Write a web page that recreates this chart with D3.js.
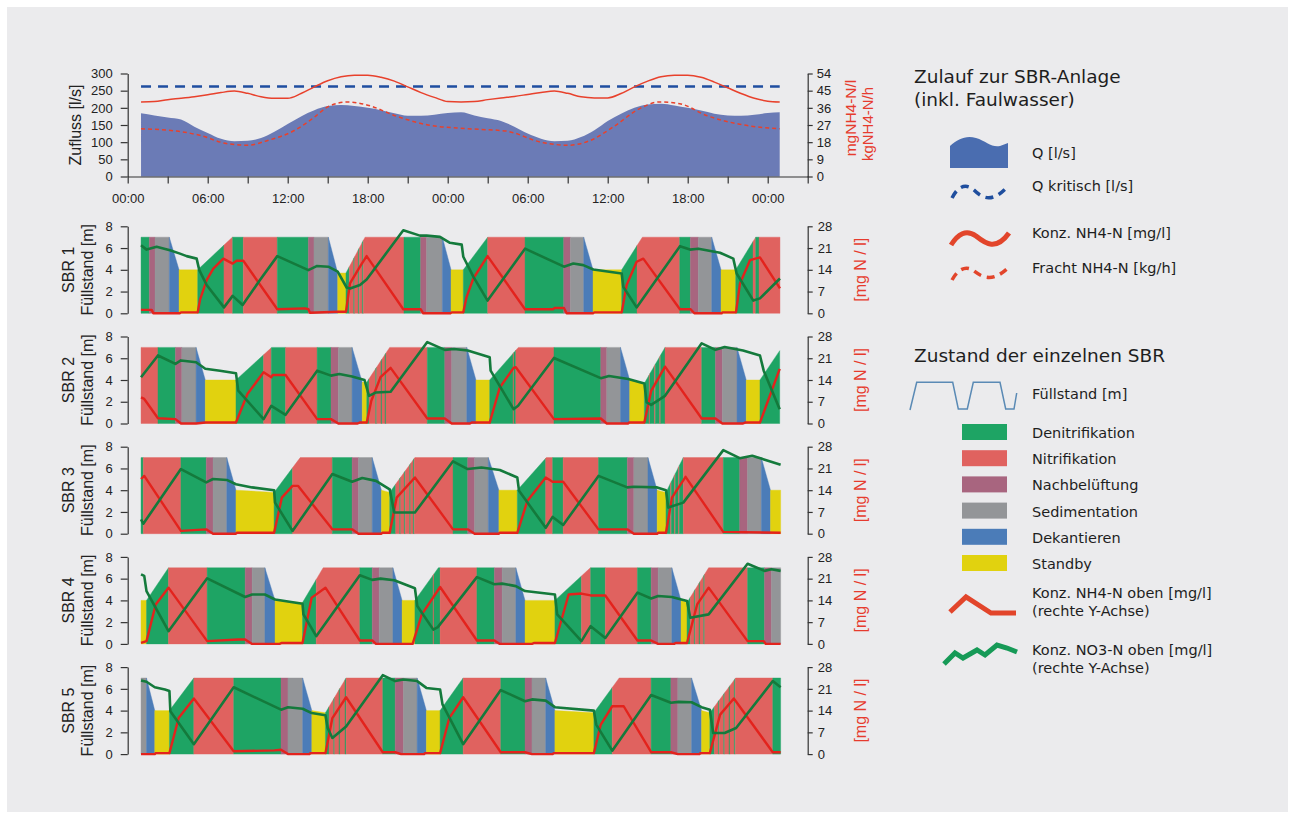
<!DOCTYPE html>
<html><head><meta charset="utf-8">
<script src="https://cdn.jsdelivr.net/npm/d3@7"></script>
<style>body{margin:0;background:#fff}svg{display:block}</style>
</head><body><svg id="c" width="1295" height="819"></svg>
<script>
// ---------------- DATA ----------------
// Zulauf (time in hours from 00:00 of day 1)
const qFlow = [[1,184],[2,178],[3,172],[4,166],[5,145],[6,127],[7,110],[8,103],[9,104],[10,112],[11,130],[12,153],[13,175],[14,193],[15,205],[16,208],[17,205],[18,200],[19,193],[20,184],[21,177],[22,177],[23,180],[24,185],[25,187],[26,178],[27,170],[28,162],[29,145],[30,125],[31,110],[32,103],[33,104],[34,115],[35,135],[36,162],[37,183],[38,200],[39,210],[40,212],[41,207],[42,200],[43,192],[44,183],[45,178],[46,177],[47,180],[48,185],[48.9,187]];
const qKritisch = [[1,262],[48.9,262]];
const konzNH4 = [[1,39.1],[2,39.3],[3,40.3],[4,41.0],[5,41.8],[6,42.8],[7,44.0],[8,44.8],[9,43.6],[10,41.8],[11,41.0],[12,41.0],[13,43.5],[14,47.0],[15,50.2],[16,52.3],[17,53.1],[18,53.1],[19,52.0],[20,50.0],[21,47.0],[22,44.0],[23,41.5],[24,39.3],[25,39.1],[26,39.3],[27,40.3],[28,41.2],[29,42.0],[30,43.0],[31,44.0],[32,44.8],[33,43.6],[34,41.8],[35,41.2],[36,41.2],[37,43.5],[38,47.0],[39,50.0],[40,52.3],[41,53.1],[42,53.1],[43,52.0],[44,49.5],[45,46.5],[46,43.5],[47,41.0],[48,39.5],[48.9,39.1]];
const frachtNH4 = [[1,25.0],[3.7,23.8],[5.4,21.6],[7.4,17.3],[9,16.4],[10.5,18.9],[12.5,24.1],[14,31.1],[15,36.5],[16.5,39.1],[18,37.4],[20.2,31.5],[22.7,26.8],[24.7,25.4],[26.5,24.7],[28.4,23.8],[31,18.0],[33,16.4],[34.7,18.9],[36.4,25.9],[38.4,35.6],[39.9,39.1],[41.4,38.2],[43.4,32.0],[45.9,27.4],[48.9,25.0]];
const timeTicks = [0,3,6,9,12,15,18,21,24,27,30,33,36,39,42,45,48,51];
const timeLabels = ["00:00","","06:00","","12:00","","18:00","","00:00","","06:00","","12:00","","18:00","","00:00",""];
const qTicks = [0,50,100,150,200,250,300];
const nTicks = [0,9,18,27,36,45,54];
const levelTicks = [0,2,4,6,8];
const mgTicks = [0,7,14,21,28];

// SBR 1
const sbr1Level = [[1,7],[3.12,7],[3.85,4],[5.25,4],[7.85,7],[15.05,7],[15.75,3.7],[16.37,3.7],[17.8,7],[23.6,7],[24.25,4],[25.17,4],[27.0,7],[34.2,7],[34.9,4],[37.05,4],[38.6,7],[43.8,7],[44.5,4],[45.6,4],[47.1,7],[48.92,7]];
const sbr1Phases = [[1.0,1.62,"D"],[1.62,2.05,"B"],[2.05,3.12,"S"],[3.12,3.85,"K"],[3.85,5.25,"Y"],[5.25,7.22,"D"],[7.22,7.87,"N"],[7.87,8.67,"D"],[8.67,11.22,"N"],[11.22,13.55,"D"],[13.55,13.97,"B"],[13.97,15.05,"S"],[15.05,15.75,"K"],[15.75,16.37,"Y"],[16.37,16.62,"D"],[16.62,16.95,"N"],[16.95,17.02,"D"],[17.02,17.3,"N"],[17.3,17.37,"D"],[17.37,17.6,"N"],[17.6,17.67,"D"],[17.67,20.72,"N"],[20.72,21.97,"D"],[21.97,22.42,"B"],[22.42,23.6,"S"],[23.6,24.25,"K"],[24.25,25.17,"Y"],[25.17,27.0,"D"],[27.0,29.8,"N"],[29.8,32.7,"D"],[32.7,33.2,"B"],[33.2,34.2,"S"],[34.2,34.9,"K"],[34.9,37.05,"Y"],[37.05,38.2,"D"],[38.2,41.4,"N"],[41.4,42.2,"D"],[42.2,42.8,"B"],[42.8,43.8,"S"],[43.8,44.5,"K"],[44.5,45.6,"Y"],[45.6,46.9,"D"],[46.9,47.1,"N"],[47.1,47.35,"D"],[47.35,48.92,"N"]];
const sbr1NH4 = [[1.0,1.1],[1.8,1.1],[1.92,0],[3.9,0],[4.0,0.3],[5.25,0.3],[5.42,4.3],[5.92,10.7],[6.42,14.4],[7.17,17.6],[7.87,16.0],[8.17,16.9],[8.67,16.9],[11.22,1.3],[13.3,1.6],[13.55,1.3],[13.67,0.2],[15.8,0.5],[16.37,0.5],[16.67,9.6],[17.42,15],[17.92,18.4],[20.67,1.3],[21.97,1.3],[22.17,0],[24.2,0],[24.3,0.3],[25.17,0.3],[25.42,5.3],[25.92,11.2],[26.99,18.4],[29.8,1.3],[31.92,1.3],[32.0,1.7],[32.72,1.7],[32.92,0],[34.9,0],[35.0,0.3],[37.05,0.3],[37.42,9.1],[38.17,16.6],[38.67,17.6],[41.42,1.3],[42.22,1.3],[42.5,0],[44.55,0],[44.6,0.3],[45.62,0.3],[45.92,9.6],[46.67,17.1],[47.42,18],[48.92,8]];
const sbr1NO3 = [[1.0,21.9],[1.42,20.5],[2.17,21.4],[3.17,20.3],[3.92,19.2],[4.42,18.4],[5.17,17.6],[5.37,13.9],[5.92,9.1],[7.22,1.9],[7.87,5.6],[8.62,2.7],[9.92,10.7],[11.22,18.4],[13.55,13.9],[14.17,15.2],[15.05,15.0],[15.75,13.4],[16.42,8.3],[16.67,8.0],[17.42,9.1],[17.92,10.9],[20.67,26.7],[21.92,25],[22.42,25],[23.42,24.6],[24.17,22.7],[25.05,22.1],[25.17,18.2],[25.92,11.8],[26.99,4.1],[29.8,20.8],[32.72,15.0],[33.42,16.0],[34.17,15.5],[34.92,14.1],[37.05,12.8],[37.17,8.5],[38.17,1.9],[41.42,21.6],[42.17,20.5],[42.8,20.8],[44.42,19.5],[45.42,17.6],[45.67,12.8],[46.92,4.1],[47.42,4.8],[48.92,11.2]];

// SBR 2
const sbr2Level = [[1,7],[5.13,7],[5.82,4],[8.12,4],[10.8,7],[16.83,7],[17.59,3.8],[17.93,3.8],[19.65,7],[25.43,7],[26.12,4],[27.15,4],[29.3,7],[36.96,7],[37.65,4],[38.75,3.7],[40.3,7],[45.7,7],[46.39,4],[47.42,4],[48.9,6.7]];
const sbr2Phases = [[1.0,2.27,"N"],[2.27,3.58,"D"],[3.58,4.06,"B"],[4.06,5.13,"S"],[5.13,5.82,"K"],[5.82,8.12,"Y"],[8.12,10.19,"D"],[10.19,10.77,"N"],[10.77,11.84,"D"],[11.84,14.21,"N"],[14.21,15.25,"D"],[15.25,15.8,"B"],[15.8,16.83,"S"],[16.83,17.59,"K"],[17.59,17.93,"Y"],[17.93,18.1,"D"],[18.1,18.6,"N"],[18.6,18.67,"D"],[18.67,19.0,"N"],[19.0,19.07,"D"],[19.07,19.3,"N"],[19.3,19.37,"D"],[19.37,22.47,"N"],[22.47,23.78,"D"],[23.78,24.3,"B"],[24.3,25.43,"S"],[25.43,26.12,"K"],[26.12,27.15,"Y"],[27.15,28.9,"D"],[28.9,28.97,"N"],[28.97,29.11,"D"],[29.11,31.97,"N"],[31.97,35.48,"D"],[35.48,35.93,"B"],[35.93,36.96,"S"],[36.96,37.65,"K"],[37.65,38.75,"Y"],[38.75,39.1,"D"],[39.1,39.17,"N"],[39.17,39.5,"D"],[39.5,39.57,"N"],[39.57,39.9,"D"],[39.9,39.97,"N"],[39.97,40.3,"D"],[40.3,43.05,"N"],[43.05,44.08,"D"],[44.08,44.6,"B"],[44.6,45.7,"S"],[45.7,46.39,"K"],[46.39,47.42,"Y"],[47.42,48.9,"D"]];
const sbr2NH4 = [[1.0,8.4],[1.24,7.9],[2.27,1.7],[3.58,1.4],[4.0,0],[5.13,0],[5.82,0.3],[8.12,0.3],[8.98,9.5],[10.19,16.5],[10.77,14.9],[10.88,15.6],[11.84,15.6],[14.21,1.4],[15.25,1.4],[15.8,0],[17.24,0],[17.4,0.3],[17.93,0.3],[18.27,7.3],[18.96,14.9],[19.72,17.9],[22.47,1.6],[23.78,1.6],[24.3,0],[25.67,0],[25.8,0.3],[27.15,0.3],[27.91,11.6],[28.94,17.9],[29.11,18.1],[31.97,1.4],[35.48,1.6],[35.93,0],[37.54,0],[37.6,0.3],[38.75,0.3],[39.26,10.5],[40.3,18.3],[43.05,1.6],[44.08,1.6],[44.6,0],[46.15,0],[46.3,0.3],[47.42,0.3],[48.21,9.5],[48.9,17.6]];
const sbr2NO3 = [[1.0,14.9],[2.27,21.9],[3.58,19.2],[3.99,20.3],[5.13,19.7],[5.82,17.6],[6.92,17.0],[8.12,16.2],[8.29,10.6],[10.19,1.4],[10.77,5.7],[11.84,2.8],[14.21,17.0],[15.25,15.4],[15.87,15.9],[16.83,15.1],[17.76,14.0],[18.1,8.9],[18.62,10.0],[19.72,10.2],[22.47,26.2],[23.78,23.7],[24.47,24.0],[25.5,23.5],[27.15,21.3],[27.22,17.0],[28.94,4.6],[29.28,5.7],[31.97,21.1],[35.48,14.6],[36.1,15.3],[37.54,14.3],[38.75,12.9],[38.92,6.8],[39.26,6.0],[40.3,8.9],[43.05,25.8],[44.08,23.7],[44.77,24.6],[46.15,23.5],[47.42,21.9],[47.7,17.0],[48.9,4.6]];

// SBR 3
const sbr3Level = [[1,7],[7.43,7],[8.12,4],[10.98,3.8],[12.94,7],[18.34,7],[19.03,4],[19.65,3.8],[21.54,7],[27.05,7],[27.84,4],[29.22,4],[31.4,7],[39.02,7],[39.71,4],[40.37,3.8],[41.67,7],[47.52,7],[48.21,4],[48.97,4]];
const sbr3Phases = [[1.0,1.17,"D"],[1.17,3.99,"N"],[3.99,5.89,"D"],[5.89,6.4,"B"],[6.4,7.43,"S"],[7.43,8.12,"K"],[8.12,10.98,"Y"],[10.98,12.36,"D"],[12.36,15.35,"N"],[15.35,16.83,"D"],[16.83,17.31,"B"],[17.31,18.34,"S"],[18.34,19.03,"K"],[19.03,19.65,"Y"],[19.65,20.1,"D"],[20.1,20.4,"N"],[20.4,20.47,"D"],[20.47,20.75,"N"],[20.75,20.82,"D"],[20.82,21.15,"N"],[21.15,21.22,"D"],[21.22,21.42,"N"],[21.42,21.49,"D"],[21.49,24.4,"N"],[24.4,25.5,"D"],[25.5,26.02,"B"],[26.02,27.05,"S"],[27.05,27.84,"K"],[27.84,29.22,"Y"],[29.22,31.35,"D"],[31.35,31.87,"N"],[31.87,32.66,"D"],[32.66,35.31,"N"],[35.31,37.47,"D"],[37.47,37.96,"B"],[37.96,39.02,"S"],[39.02,39.71,"K"],[39.71,40.37,"Y"],[40.37,40.7,"D"],[40.7,40.77,"N"],[40.77,41.0,"D"],[41.0,41.07,"N"],[41.07,41.3,"D"],[41.3,41.37,"N"],[41.37,41.67,"D"],[41.67,44.67,"N"],[44.67,45.9,"D"],[45.9,46.49,"B"],[46.49,47.52,"S"],[47.52,48.21,"K"],[48.21,48.97,"Y"]];
const sbr3NH4 = [[1.0,17.6],[1.24,18.6],[3.99,0.9],[5.89,1.4],[6.4,0],[8.12,0],[8.2,0.3],[10.98,0.3],[11.56,11.6],[12.36,15.4],[12.77,15.4],[15.35,1.4],[16.83,1.4],[17.31,0],[19.03,0],[19.1,0.3],[19.65,0.3],[20.17,11.6],[21.54,18.1],[24.4,1.4],[25.5,1.4],[26.02,0],[27.84,0],[27.9,0.3],[29.22,0.3],[29.97,10.5],[31.35,18.1],[31.87,16.7],[32.66,16.7],[35.31,1.4],[37.47,1.4],[37.96,0],[39.71,0],[39.8,0.3],[40.37,0.3],[40.82,11.6],[41.84,18.3],[44.67,0.6],[48.97,0.3]];
const sbr3NO3 = [[1.0,4.6],[1.17,3.2],[3.99,20.8],[5.89,16.5],[6.4,17.6],[7.43,17.3],[8.12,15.9],[9.33,14.9],[10.98,14.0],[11.05,10.0],[12.36,0.9],[15.35,19.2],[16.83,16.7],[17.59,17.9],[18.62,17.0],[19.65,14.3],[19.99,6.8],[20.68,6.8],[21.54,6.8],[24.4,23.3],[25.5,20.8],[26.53,21.3],[27.91,20.5],[29.22,18.1],[29.35,13.8],[31.35,1.9],[31.87,5.4],[32.66,2.8],[35.31,18.6],[37.47,14.9],[37.96,15.1],[39.71,14.9],[40.37,14.0],[40.54,8.4],[41.67,10.0],[44.67,26.9],[45.9,24.3],[46.84,25.1],[48.97,22.2]];

// SBR 4
const sbr4Level = [[1,4],[1.41,4],[3.06,7],[10.29,7],[11.05,4],[13.11,3.8],[14.66,7],[19.89,7],[20.58,4],[21.54,4],[23.3,7],[29.11,7],[29.8,4],[32.04,4],[34.7,7],[40.81,7],[41.5,4],[41.95,3.8],[43.57,7],[48.97,7]];
const sbr4Phases = [[1.0,1.41,"Y"],[1.41,3.06,"D"],[3.06,5.96,"N"],[5.96,8.81,"D"],[8.81,9.33,"B"],[9.33,10.29,"S"],[10.29,11.05,"K"],[11.05,13.11,"Y"],[13.11,14.14,"D"],[14.14,17.41,"N"],[17.41,18.34,"D"],[18.34,18.86,"B"],[18.86,19.89,"S"],[19.89,20.58,"K"],[20.58,21.54,"Y"],[21.54,22.9,"D"],[22.9,22.97,"N"],[22.97,23.43,"D"],[23.43,26.19,"N"],[26.19,27.5,"D"],[27.5,28.08,"B"],[28.08,29.11,"S"],[29.11,29.8,"K"],[29.8,32.04,"Y"],[32.04,34.03,"D"],[34.03,34.72,"N"],[34.72,35.82,"D"],[35.82,38.23,"N"],[38.23,39.26,"D"],[39.26,39.78,"B"],[39.78,40.81,"S"],[40.81,41.5,"K"],[41.5,41.95,"Y"],[41.95,42.2,"D"],[42.2,42.5,"N"],[42.5,42.57,"D"],[42.57,42.85,"N"],[42.85,42.92,"D"],[42.92,43.2,"N"],[43.2,43.27,"D"],[43.27,46.49,"N"],[46.49,47.76,"D"],[47.76,48.28,"B"],[48.28,48.97,"S"]];
const sbr4NH4 = [[1.0,0.3],[1.41,0.9],[2.1,12.7],[3.06,18.1],[5.96,0.9],[8.3,1.4],[8.81,1.4],[9.33,0],[11.39,0],[11.56,0.3],[13.11,0.3],[13.8,14.9],[14.83,18.1],[17.41,1.1],[18.34,1.1],[18.62,0],[21.37,0],[22.06,9.5],[23.43,18.3],[26.19,1.1],[27.5,1.1],[27.91,0],[30.32,0],[30.5,0.3],[32.04,0.3],[33.07,15.9],[34.03,16.2],[34.72,15.6],[35.82,15.6],[38.23,1.1],[39.26,1.1],[39.78,0],[40.98,0],[41.1,0.3],[41.95,0.3],[42.71,12.7],[43.57,18.1],[46.49,0.9],[47.69,0.9],[47.86,0],[48.97,0]];
const sbr4NO3 = [[1.0,22.4],[1.24,21.9],[1.41,17.0],[3.06,4.1],[5.96,21.1],[8.81,15.1],[9.33,15.9],[10.29,15.9],[11.05,14.3],[13.11,12.9],[13.18,9.5],[14.14,2.5],[17.41,22.1],[18.34,20.6],[18.96,21.0],[19.99,20.5],[21.54,17.9],[21.72,12.2],[22.92,4.6],[23.26,5.4],[26.19,21.5],[27.5,19.2],[28.08,19.4],[29.11,18.6],[29.8,17.0],[32.04,15.9],[32.21,9.5],[34.03,0.9],[34.72,5.7],[35.82,1.9],[38.23,16.5],[39.26,14.6],[39.78,15.4],[40.81,15.1],[41.95,13.8],[42.19,8.4],[43.57,9.5],[46.49,25.8],[47.76,23.5],[48.28,24.0],[48.97,23.5]];

// SBR 5
const sbr5Level = [[1,7],[1.41,7],[2.03,4],[3.13,4],[4.96,7],[13.12,7],[13.81,4],[14.83,3.8],[16.38,7],[21.71,7],[22.4,4],[23.43,4],[25.16,7],[31.35,7],[32.04,4],[34.96,3.8],[36.86,7],[42.29,7],[43.04,4],[43.66,3.8],[45.6,7],[48.97,7]];
const sbr5Phases = [[1.0,1.41,"S"],[1.41,2.03,"K"],[2.03,3.13,"Y"],[3.13,4.96,"D"],[4.96,7.95,"N"],[7.95,11.5,"D"],[11.5,12.02,"B"],[12.02,13.12,"S"],[13.12,13.81,"K"],[13.81,14.83,"Y"],[14.83,15.1,"D"],[15.1,15.45,"N"],[15.45,15.52,"D"],[15.52,15.85,"N"],[15.85,15.92,"D"],[15.92,16.3,"N"],[16.3,16.38,"D"],[16.38,19.13,"N"],[19.13,20.06,"D"],[20.06,20.68,"B"],[20.68,21.71,"S"],[21.71,22.4,"K"],[22.4,23.43,"Y"],[23.43,25.16,"D"],[25.16,27.98,"N"],[27.98,29.8,"D"],[29.8,30.32,"B"],[30.32,31.35,"S"],[31.35,32.04,"K"],[32.04,34.96,"Y"],[34.96,36.34,"D"],[36.34,39.26,"N"],[39.26,40.74,"D"],[40.74,41.26,"B"],[41.26,42.29,"S"],[42.29,43.04,"K"],[43.04,43.66,"Y"],[43.66,44.0,"D"],[44.0,44.3,"N"],[44.3,44.37,"D"],[44.37,44.7,"N"],[44.7,44.77,"D"],[44.77,45.1,"N"],[45.1,45.17,"D"],[45.17,45.5,"N"],[45.5,45.57,"D"],[45.57,48.38,"N"],[48.38,48.97,"D"]];
const sbr5NH4 = [[1.0,0],[2.03,0],[2.1,0.3],[3.13,0.3],[3.82,11.6],[4.96,17.9],[7.95,0.9],[11.0,1.2],[11.5,1.4],[12.02,0],[13.63,0],[13.7,0.3],[14.83,0.3],[15.35,11.6],[16.38,18.3],[19.13,0.6],[20.06,0.6],[20.51,0],[22.23,0],[22.3,0.3],[23.43,0.3],[24.12,11.6],[25.16,18.3],[27.98,0.6],[29.8,0.6],[30.32,0],[31.87,0],[31.95,0.3],[34.96,0.3],[35.48,9.5],[36.34,15.4],[37.2,15.4],[39.26,0.6],[40.74,0.6],[41.26,0],[42.88,0],[42.95,0.3],[43.66,0.3],[44.43,12.7],[45.46,17.9],[48.38,0.6],[48.97,0.6]];
const sbr5NO3 = [[1.0,23.7],[1.41,23.3],[2.03,21.5],[2.79,20.8],[3.13,20.3],[3.2,13.8],[4.96,3.2],[7.95,21.5],[11.5,14.3],[12.02,15.1],[13.12,14.6],[13.8,13.2],[14.83,12.5],[15.0,8.4],[15.35,5.2],[16.38,8.9],[19.13,25.4],[20.06,23.5],[20.68,24.0],[21.71,23.5],[22.4,21.3],[23.43,20.8],[23.61,16.0],[25.16,3.2],[27.98,20.6],[29.8,17.0],[30.32,17.6],[31.35,17.2],[32.04,15.1],[34.96,14.0],[35.14,9.5],[36.34,1.1],[39.26,19.0],[40.74,16.5],[41.32,16.8],[42.29,16.7],[43.04,15.1],[43.66,14.3],[43.91,6.8],[44.77,6.8],[45.63,8.4],[48.38,23.5],[48.97,21.5]];

const sbrNames = ["SBR 1","SBR 2","SBR 3","SBR 4","SBR 5"];
const phaseCodes = ["D","N","B","S","K","Y"];
const phaseNames = ["Denitrifikation","Nitrifikation","Nachbelüftung","Sedimentation","Dekantieren","Standby"];

// ---------------- STYLE ----------------
const phaseColor = {D:"#1ea464",N:"#e0625f",B:"#a8657f",S:"#939598",K:"#4b7cb8",Y:"#e1d20f"};
const cNH4 = "#e3231d", cNO3 = "#147a3c";
const axisFont = "'Liberation Sans', Arial, sans-serif";
const legFont = "'DejaVu Sans', Verdana, sans-serif";
const legSize = 14.5, legTitle = 18.5;

const svg = d3.select("#c");
svg.append("rect").attr("x",7).attr("y",7).attr("width",1281).attr("height",805).attr("fill","#ebebed");

const x = d3.scaleLinear().domain([0,51]).range([127.7,807.7]);

function styleAxis(g){
  g.attr("font-size",13).attr("font-family",axisFont);
  g.selectAll("path,line").attr("stroke","#333").attr("stroke-width",1.2);
  g.selectAll("text").attr("fill","#222");
}

// ---------- Top panel ----------
const yQ = d3.scaleLinear().domain([0,300]).range([176.5,73.5]);
const yN = d3.scaleLinear().domain([0,54]).range([176.5,73.5]);
const topG = svg.append("g");
topG.append("path").datum(qFlow)
  .attr("d", d3.area().x(d=>x(d[0])).y0(yQ(0)).y1(d=>yQ(d[1])).curve(d3.curveMonotoneX))
  .attr("fill","#6b7bb6");
topG.append("path").datum(qKritisch)
  .attr("d", d3.line().x(d=>x(d[0])).y(d=>yQ(d[1])))
  .attr("fill","none").attr("stroke","#1f4ea0").attr("stroke-width",2.6).attr("stroke-dasharray","10,7");
topG.append("path").datum(konzNH4)
  .attr("d", d3.line().x(d=>x(d[0])).y(d=>yN(d[1])).curve(d3.curveMonotoneX))
  .attr("fill","none").attr("stroke","#e8412c").attr("stroke-width",1.5);
topG.append("path").datum(frachtNH4)
  .attr("d", d3.line().x(d=>x(d[0])).y(d=>yN(d[1])).curve(d3.curveMonotoneX))
  .attr("fill","none").attr("stroke","#e8412c").attr("stroke-width",1.5).attr("stroke-dasharray","4,3");

const gx = topG.append("g").attr("transform","translate(0,176.5)")
  .call(d3.axisBottom(x).tickValues(timeTicks).tickFormat((d,i)=>timeLabels[i]).tickSize(7).tickPadding(10).tickSizeOuter(0));
styleAxis(gx);
const gyl = topG.append("g").attr("transform","translate(127.7,0)")
  .call(d3.axisLeft(yQ).tickValues(qTicks).tickSize(7).tickPadding(8).tickSizeOuter(0));
styleAxis(gyl);
const gyr = topG.append("g").attr("transform","translate(807.7,0)")
  .call(d3.axisRight(yN).tickValues(nTicks).tickSize(5).tickPadding(4).tickSizeOuter(0));
styleAxis(gyr);
topG.append("text").attr("transform","translate(75,125) rotate(-90)").attr("text-anchor","middle")
  .attr("dominant-baseline","central").attr("font-family",axisFont).attr("font-size",16).attr("fill","#222").text("Zufluss [l/s]");
topG.append("text").attr("transform","translate(850,118) rotate(-90)").attr("text-anchor","middle")
  .attr("dominant-baseline","central").attr("font-family",axisFont).attr("font-size",15.5).attr("fill","#e63b2e").text("mgNH4-N/l");
topG.append("text").attr("transform","translate(867,124) rotate(-90)").attr("text-anchor","middle")
  .attr("dominant-baseline","central").attr("font-family",axisFont).attr("font-size",15).attr("fill","#e63b2e").text("kgNH4-N/h");

// ---------- SBR panels ----------
function interp(arr,t){
  if(t<=arr[0][0]) return arr[0][1];
  for(let i=1;i<arr.length;i++){
    if(t<=arr[i][0]){const a=arr[i-1],b=arr[i];return a[1]+(b[1]-a[1])*(t-a[0])/(b[0]-a[0]);}
  }
  return arr[arr.length-1][1];
}
const sbrData = [
  [sbr1Level,sbr1Phases,sbr1NH4,sbr1NO3],
  [sbr2Level,sbr2Phases,sbr2NH4,sbr2NO3],
  [sbr3Level,sbr3Phases,sbr3NH4,sbr3NO3],
  [sbr4Level,sbr4Phases,sbr4NH4,sbr4NO3],
  [sbr5Level,sbr5Phases,sbr5NH4,sbr5NO3]
];
sbrData.forEach((s,i)=>{
  const [lev,phases,nh4,no3] = s;
  const y0 = 313.3 + 110.2*i, y1 = 226.3 + 110.2*i;
  const yL = d3.scaleLinear().domain([0,8]).range([y0,y1]);
  const yM = d3.scaleLinear().domain([0,28]).range([y0,y1]);
  const g = svg.append("g");
  const area = d3.area().x(d=>x(d[0])).y0(yL(0)).y1(d=>yL(d[1]));
  phases.forEach(p=>{
    const [a,b,code]=p;
    const pts=[[a,interp(lev,a)]];
    lev.forEach(l=>{ if(l[0]>a && l[0]<b) pts.push(l); });
    pts.push([b,interp(lev,b)]);
    g.append("path").attr("d",area(pts)).attr("fill",phaseColor[code])
      .attr("stroke",phaseColor[code]).attr("stroke-width",0.4);
  });
  g.append("path").datum(nh4).attr("d",d3.line().x(d=>x(d[0])).y(d=>yM(d[1])))
    .attr("fill","none").attr("stroke",cNH4).attr("stroke-width",2.4).attr("stroke-linejoin","round");
  g.append("path").datum(no3).attr("d",d3.line().x(d=>x(d[0])).y(d=>yM(d[1])))
    .attr("fill","none").attr("stroke",cNO3).attr("stroke-width",2.6).attr("stroke-linejoin","round");
  const al = g.append("g").attr("transform","translate(127.7,0)")
    .call(d3.axisLeft(yL).tickValues(levelTicks).tickSize(7).tickPadding(8).tickSizeOuter(0));
  styleAxis(al);
  const ar = g.append("g").attr("transform","translate(807.7,0)")
    .call(d3.axisRight(yM).tickValues(mgTicks).tickSize(5).tickPadding(5).tickSizeOuter(0));
  styleAxis(ar);
  const cy = (y0+y1)/2;
  g.append("text").attr("transform",`translate(68,${cy}) rotate(-90)`).attr("text-anchor","middle")
    .attr("dominant-baseline","central").attr("font-family",axisFont).attr("font-size",16).attr("fill","#222").text(sbrNames[i]);
  g.append("text").attr("transform",`translate(87,${cy}) rotate(-90)`).attr("text-anchor","middle")
    .attr("dominant-baseline","central").attr("font-family",axisFont).attr("font-size",16).attr("fill","#222").text("Füllstand [m]");
  g.append("text").attr("transform",`translate(860,${cy}) rotate(-90)`).attr("text-anchor","middle")
    .attr("dominant-baseline","central").attr("font-family",axisFont).attr("font-size",16).attr("fill","#e63b2e").text("[mg N / l]");
});

// ---------- Legend ----------
const L = svg.append("g").attr("font-family",legFont).attr("fill","#1e1e1e");
L.append("text").attr("x",914).attr("y",83).attr("font-size",legTitle).text("Zulauf zur SBR-Anlage");
L.append("text").attr("x",914).attr("y",106).attr("font-size",legTitle).text("(inkl. Faulwasser)");
L.append("path").attr("d","M950,168 L950,146 C958,139 966,135 976,138 C986,141 992,148 1000,146 L1008,143 L1008,168 Z").attr("fill","#4a6db0");
L.append("path").attr("d","M952,198 C958,186 966,183 974,190 C982,198 992,204 1008,186").attr("fill","none")
  .attr("stroke","#1f4e9e").attr("stroke-width",3.5).attr("stroke-dasharray","8,6");
L.append("path").attr("d","M951,245 C958,234 966,229 976,236 C986,244 996,251 1009,233").attr("fill","none")
  .attr("stroke","#e2452b").attr("stroke-width",5);
L.append("path").attr("d","M952,280 C958,269 966,265 974,271 C982,277 992,283 1008,268").attr("fill","none")
  .attr("stroke","#e2452b").attr("stroke-width",3.5).attr("stroke-dasharray","8,6");
const legTop = [["Q [l/s]",158],["Q kritisch [l/s]",191],["Konz. NH4-N [mg/l]",238],["Fracht NH4-N [kg/h]",273]];
legTop.forEach(d=>L.append("text").attr("x",1032).attr("y",d[1]).attr("font-size",legSize).text(d[0]));

L.append("text").attr("x",914).attr("y",362).attr("font-size",legTitle).text("Zustand der einzelnen SBR");
L.append("polyline").attr("points","910,410 916.7,382.3 952.7,382.3 958.3,409 967.3,409 973.3,382.3 1000,382.3 1005.7,409 1014,409 1016.7,393")
  .attr("fill","none").attr("stroke","#5a8ab5").attr("stroke-width",1.5);
L.append("text").attr("x",1032).attr("y",399).attr("font-size",legSize).text("Füllstand [m]");
phaseCodes.forEach((c,i)=>{
  const yy = 424 + i*26.2;
  L.append("rect").attr("x",962).attr("y",yy).attr("width",45).attr("height",16).attr("fill",phaseColor[c]);
  L.append("text").attr("x",1032).attr("y",yy+14).attr("font-size",legSize).text(phaseNames[i]);
});
L.append("polyline").attr("points","950,612 966,597 991,613 1016,613").attr("fill","none")
  .attr("stroke","#e2452b").attr("stroke-width",5);
L.append("text").attr("x",1032).attr("y",598).attr("font-size",legSize).text("Konz. NH4-N oben [mg/l]");
L.append("text").attr("x",1032).attr("y",616).attr("font-size",legSize).text("(rechte Y-Achse)");
L.append("polyline").attr("points","944,664 955,653 963,658 977,650 985,655 997,645 1007,648 1017,652").attr("fill","none")
  .attr("stroke","#169a57").attr("stroke-width",5);
L.append("text").attr("x",1032).attr("y",655).attr("font-size",legSize).text("Konz. NO3-N oben [mg/l]");
L.append("text").attr("x",1032).attr("y",673).attr("font-size",legSize).text("(rechte Y-Achse)");
</script></body></html>
